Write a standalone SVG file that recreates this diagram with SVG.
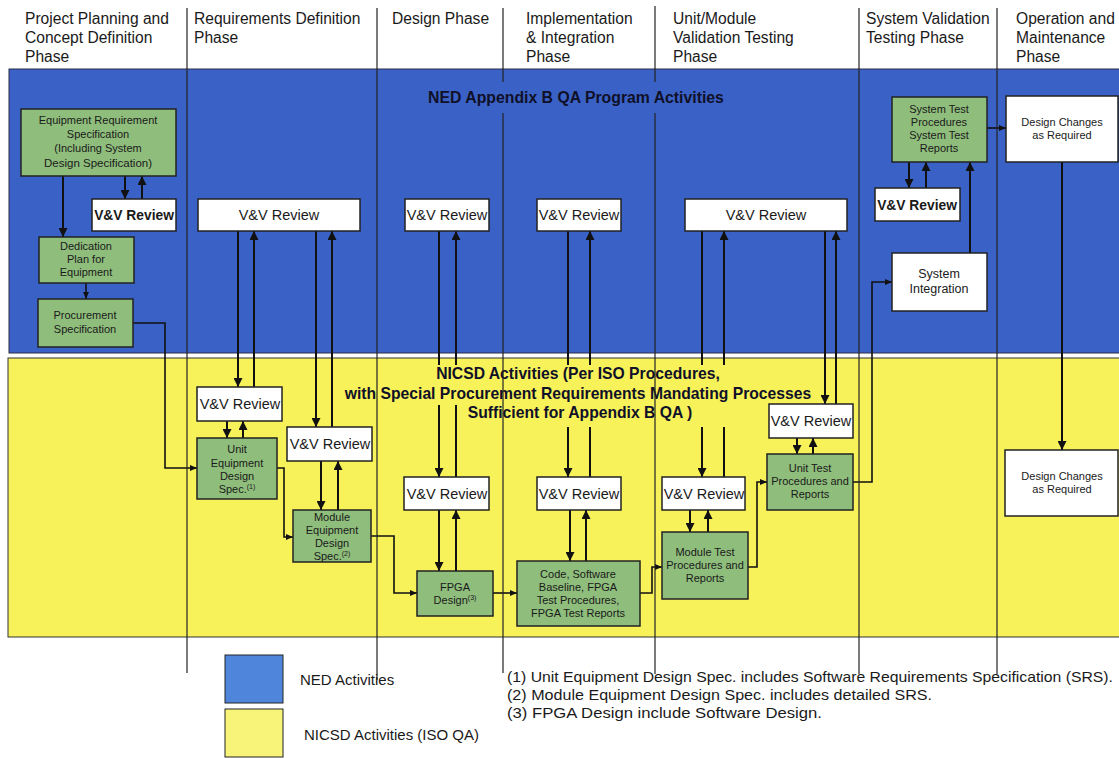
<svg xmlns="http://www.w3.org/2000/svg" width="1119" height="758" viewBox="0 0 1119 758">
<defs>
<style>
text{font-family:"Liberation Sans",Arial,sans-serif;fill:#1a1a1a}
.hd{font-size:15.6px}
.ttl{font-size:15.8px;font-weight:bold;text-anchor:middle;fill:#101028}
.g{fill:#8fbd7c;stroke:#222;stroke-width:1.5}
.w{fill:#ffffff;stroke:#222;stroke-width:1.5}
.t{font-size:11px;text-anchor:middle}
.vv{font-size:14.5px;text-anchor:middle}
.vvb{font-size:13.8px;font-weight:bold;text-anchor:middle}
.c{fill:none;stroke:#111;stroke-width:2}
.cs{fill:none;stroke:#111;stroke-width:1.6}
.dv{stroke:#222;stroke-width:1.2}
.fn{font-size:15px}
.sup{font-size:7px}
</style>
<marker id="ah" markerWidth="9" markerHeight="9" refX="9" refY="4.5" orient="auto" markerUnits="userSpaceOnUse">
<path d="M0,0 L9,4.5 L0,9 Z" fill="#111"/>
</marker>
<marker id="as" markerWidth="7" markerHeight="6" refX="7" refY="3" orient="auto" markerUnits="userSpaceOnUse">
<path d="M0,0 L7,3 L0,6 Z" fill="#111"/>
</marker>
</defs>
<rect width="1119" height="758" fill="#ffffff"/>
<!-- bands -->
<rect x="9" y="69" width="1115" height="284" fill="#3a62c6" stroke="#2a2a4a" stroke-width="1"/>
<rect x="8" y="358" width="1116" height="279" fill="#f7f25a" stroke="#333" stroke-width="1"/>

<!-- headers -->
<g id="headers">
<text class="hd" x="25" y="24">Project Planning and</text>
<text class="hd" x="25" y="43">Concept Definition</text>
<text class="hd" x="25" y="62">Phase</text>
<text class="hd" x="194" y="24">Requirements Definition</text>
<text class="hd" x="194" y="43">Phase</text>
<text class="hd" x="392" y="24">Design Phase</text>
<text class="hd" x="526" y="24">Implementation</text>
<text class="hd" x="526" y="43">&amp; Integration</text>
<text class="hd" x="526" y="62">Phase</text>
<text class="hd" x="673" y="24">Unit/Module</text>
<text class="hd" x="673" y="43">Validation Testing</text>
<text class="hd" x="673" y="62">Phase</text>
<text class="hd" x="866" y="24">System Validation</text>
<text class="hd" x="866" y="43">Testing Phase</text>
<text class="hd" x="1016" y="24">Operation and</text>
<text class="hd" x="1016" y="43">Maintenance</text>
<text class="hd" x="1016" y="62">Phase</text>
</g>

<text class="ttl" x="576" y="103">NED Appendix B QA Program Activities</text>

<!-- connectors -->
<g id="connectors">
<path class="c" d="M125,176 V199" marker-end="url(#ah)"/>
<path class="c" d="M142,199 V176" marker-end="url(#ah)"/>
<path class="c" d="M63,176 V237" marker-end="url(#ah)"/>
<path class="cs" d="M86,283 V299" marker-end="url(#as)"/>
<path class="cs" d="M133,323 H165 V468 H197" marker-end="url(#as)"/>
<path class="c" d="M238,231 V387" marker-end="url(#ah)"/>
<path class="c" d="M254,387 V231" marker-end="url(#ah)"/>
<path class="c" d="M316,231 V427" marker-end="url(#ah)"/>
<path class="c" d="M332,427 V231" marker-end="url(#ah)"/>
<path class="c" d="M227,421 V438" marker-end="url(#ah)"/>
<path class="c" d="M243,438 V421" marker-end="url(#ah)"/>
<path class="c" d="M321,461 V510" marker-end="url(#ah)"/>
<path class="c" d="M338,510 V461" marker-end="url(#ah)"/>
<path class="cs" d="M277,468 H284 V537 H293" marker-end="url(#as)"/>
<path class="c" d="M439,231 V477" marker-end="url(#ah)"/>
<path class="c" d="M456,477 V231" marker-end="url(#ah)"/>
<path class="c" d="M439,510 V571" marker-end="url(#ah)"/>
<path class="c" d="M456,571 V510" marker-end="url(#ah)"/>
<path class="cs" d="M371,536 H394 V593 H417" marker-end="url(#as)"/>
<path class="c" d="M568,231 V477" marker-end="url(#ah)"/>
<path class="c" d="M590,477 V231" marker-end="url(#ah)"/>
<path class="c" d="M570,510 V561" marker-end="url(#ah)"/>
<path class="c" d="M586,561 V510" marker-end="url(#ah)"/>
<path class="cs" d="M493,593 H517" marker-end="url(#as)"/>
<path class="c" d="M702,231 V477" marker-end="url(#ah)"/>
<path class="c" d="M724,477 V231" marker-end="url(#ah)"/>
<path class="c" d="M825,231 V404" marker-end="url(#ah)"/>
<path class="c" d="M836,404 V231" marker-end="url(#ah)"/>
<path class="c" d="M690,510 V532" marker-end="url(#ah)"/>
<path class="c" d="M708,532 V510" marker-end="url(#ah)"/>
<path class="c" d="M797,438 V454" marker-end="url(#ah)"/>
<path class="c" d="M813,454 V438" marker-end="url(#ah)"/>
<path class="cs" d="M640,593 H652 V567 H662" marker-end="url(#as)"/>
<path class="cs" d="M748,567 H757 V482 H767" marker-end="url(#as)"/>
<path class="cs" d="M853,482 H872 V282 H892" marker-end="url(#as)"/>
<path class="c" d="M970,253 V162" marker-end="url(#ah)"/>
<path class="c" d="M909,162 V188" marker-end="url(#ah)"/>
<path class="c" d="M926,188 V162" marker-end="url(#ah)"/>
<path class="cs" d="M987,128 H1006" marker-end="url(#as)"/>
<path class="c" d="M1062,162 V450" marker-end="url(#ah)"/>
</g>

<!-- NICSD title with background -->
<g id="nicsd-title">
<rect x="430" y="365" width="296" height="21" fill="#f7f25a"/>
<rect x="340" y="386" width="476" height="19" fill="#f7f25a"/>
<rect x="462" y="405" width="268" height="22" fill="#f7f25a"/>
<text class="ttl" style="font-size:15.7px" x="578" y="379" fill="#111">NICSD Activities (Per ISO Procedures,</text>
<text class="ttl" style="font-size:15.7px" x="578" y="399" fill="#111">with Special Procurement Requirements Mandating Processes</text>
<text class="ttl" style="font-size:15.7px" x="580" y="418" fill="#111">Sufficient for Appendix B QA )</text>
</g>

<!-- dividers -->
<g id="dividers">
<line class="dv" x1="187" y1="8" x2="187" y2="673"/>
<line class="dv" x1="377" y1="8" x2="377" y2="680"/>
<line class="dv" x1="503" y1="8" x2="503" y2="82"/>
<line class="dv" x1="503" y1="113" x2="503" y2="673"/>
<line class="dv" x1="655" y1="6" x2="655" y2="82"/>
<line class="dv" x1="655" y1="113" x2="655" y2="674"/>
<line class="dv" x1="859" y1="8" x2="859" y2="674"/>
<line class="dv" x1="997" y1="8" x2="997" y2="674"/>
</g>

<!-- nodes: blue region -->
<g id="ers"><rect class="g" x="21" y="109" width="155" height="67"/>
<text class="t" x="98" y="124">Equipment Requirement</text>
<text class="t" x="98" y="138">Specification</text>
<text class="t" x="98" y="152">(Including System</text>
<text class="t" x="98" y="167" style="font-size:11.5px">Design Specification)</text></g>
<g id="vv1"><rect class="w" x="92" y="199" width="84" height="32"/><text class="vvb" x="134" y="220">V&amp;V Review</text></g>
<g id="dedication"><rect class="g" x="39" y="237" width="95" height="46"/>
<text class="t" x="86" y="250">Dedication</text>
<text class="t" x="86" y="263">Plan for</text>
<text class="t" x="86" y="276">Equipment</text></g>
<g id="procurement"><rect class="g" x="38" y="299" width="95" height="48"/>
<text class="t" x="85" y="319">Procurement</text>
<text class="t" x="85" y="333">Specification</text></g>
<g id="vv2"><rect class="w" x="198" y="199" width="162" height="32"/><text class="vv" x="279" y="220">V&amp;V Review</text></g>
<g id="vv3"><rect class="w" x="405" y="199" width="84" height="32"/><text class="vv" x="447" y="220">V&amp;V Review</text></g>
<g id="vv4"><rect class="w" x="537" y="199" width="84" height="32"/><text class="vv" x="579" y="220">V&amp;V Review</text></g>
<g id="vv5"><rect class="w" x="685" y="199" width="162" height="32"/><text class="vv" x="766" y="220">V&amp;V Review</text></g>
<g id="systest"><rect class="g" x="892" y="97" width="95" height="65"/>
<text class="t" x="939" y="113">System Test</text>
<text class="t" x="939" y="126">Procedures</text>
<text class="t" x="939" y="139">System Test</text>
<text class="t" x="939" y="152">Reports</text></g>
<g id="vv6"><rect class="w" x="875" y="188" width="85" height="33"/><text class="vvb" x="917" y="210">V&amp;V Review</text></g>
<g id="sysint"><rect class="w" x="892" y="253" width="95" height="58"/>
<text class="t" x="939" y="278" style="font-size:12.5px">System</text>
<text class="t" x="939" y="293" style="font-size:12.5px">Integration</text></g>
<g id="dc1"><rect class="w" x="1006" y="96" width="112" height="66"/>
<text class="t" x="1062" y="126">Design Changes</text>
<text class="t" x="1062" y="139">as Required</text></g>

<!-- nodes: yellow region -->
<g id="vvA"><rect class="w" x="197" y="387" width="85" height="34"/><text class="vv" x="240" y="409">V&amp;V Review</text></g>
<g id="unitequip"><rect class="g" x="197" y="438" width="80" height="61"/>
<text class="t" x="237" y="453">Unit</text>
<text class="t" x="237" y="467">Equipment</text>
<text class="t" x="237" y="480">Design</text>
<text class="t" x="237" y="493">Spec.<tspan class="sup" dy="-4">(1)</tspan></text></g>
<g id="vvB"><rect class="w" x="287" y="427" width="85" height="34"/><text class="vv" x="330" y="449">V&amp;V Review</text></g>
<g id="moduleequip"><rect class="g" x="293" y="510" width="78" height="52"/>
<text class="t" x="332" y="521">Module</text>
<text class="t" x="332" y="534">Equipment</text>
<text class="t" x="332" y="547">Design</text>
<text class="t" x="332" y="560">Spec.<tspan class="sup" dy="-4">(2)</tspan></text></g>
<g id="vvC"><rect class="w" x="404" y="477" width="85" height="33"/><text class="vv" x="447" y="499">V&amp;V Review</text></g>
<g id="fpga"><rect class="g" x="417" y="571" width="76" height="45"/>
<text class="t" x="455" y="591">FPGA</text>
<text class="t" x="455" y="604">Design<tspan class="sup" dy="-4">(3)</tspan></text></g>
<g id="vvD"><rect class="w" x="537" y="477" width="84" height="33"/><text class="vv" x="579" y="499">V&amp;V Review</text></g>
<g id="code"><rect class="g" x="517" y="561" width="123" height="65"/>
<text class="t" x="578" y="578">Code, Software</text>
<text class="t" x="578" y="591">Baseline, FPGA</text>
<text class="t" x="578" y="604">Test Procedures,</text>
<text class="t" x="578" y="617">FPGA Test Reports</text></g>
<g id="vvE"><rect class="w" x="662" y="477" width="83" height="33"/><text class="vv" x="704" y="499">V&amp;V Review</text></g>
<g id="moduletest"><rect class="g" x="662" y="532" width="86" height="67"/>
<text class="t" x="705" y="556">Module Test</text>
<text class="t" x="705" y="569">Procedures and</text>
<text class="t" x="705" y="582">Reports</text></g>
<g id="vvF"><rect class="w" x="769" y="404" width="84" height="34"/><text class="vv" x="811" y="426">V&amp;V Review</text></g>
<g id="unittest"><rect class="g" x="767" y="454" width="86" height="56"/>
<text class="t" x="810" y="472">Unit Test</text>
<text class="t" x="810" y="485">Procedures and</text>
<text class="t" x="810" y="498">Reports</text></g>
<g id="dc2"><rect class="w" x="1005" y="450" width="113" height="66"/>
<text class="t" x="1062" y="480">Design Changes</text>
<text class="t" x="1062" y="493">as Required</text></g>

<!-- legend -->
<g id="legend">
<rect x="225" y="655" width="58" height="48" fill="#4f86dc" stroke="#222" stroke-width="1"/>
<rect x="225" y="709" width="58" height="48" fill="#f8f47a" stroke="#222" stroke-width="1"/>
<text x="300" y="685" style="font-size:15px">NED Activities</text>
<text x="304" y="740" style="font-size:15px">NICSD Activities (ISO QA)</text>
</g>
<g id="footnotes">
<text class="fn" x="507" y="682" textLength="606" lengthAdjust="spacingAndGlyphs">(1) Unit Equipment Design Spec. includes Software Requirements Specification (SRS).</text>
<text class="fn" x="507" y="700" textLength="425" lengthAdjust="spacingAndGlyphs">(2) Module Equipment Design Spec. includes detailed SRS.</text>
<text class="fn" x="507" y="718" textLength="315" lengthAdjust="spacingAndGlyphs">(3) FPGA Design include Software Design.</text>
</g>
</svg>
